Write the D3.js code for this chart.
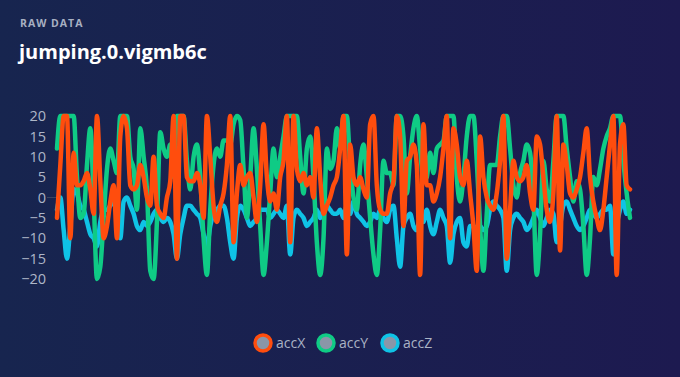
<!DOCTYPE html>
<html>
<head>
<meta charset="utf-8">
<script src="https://cdn.jsdelivr.net/npm/d3@7"></script>
<style>
  html, body { margin: 0; padding: 0; }
  body { width: 680px; height: 377px; overflow: hidden; font-family: "Open Sans", "Noto Sans", sans-serif; }
</style>
</head>
<body>
<div id="chart"></div>
<script>
var width = 680;
var height = 377;

var seriesNames = ["accX", "accY", "accZ"];
var seriesColors = ["#ff4d0d", "#0fcb85", "#0fc3e6"];
var yTicks = [20, 15, 10, 5, 0, -5, -10, -15, -20];

// raw samples
var accX = [
  -5, 8, 20, 20, -10, 11, 3, 3, 4, 6,
  2, -4, 20, 4, -10, -7, -1, 3, -10, 15,
  20, 17, 3, 2, 3, 8, 5, 0, -2, 10,
  -2, -4, -5, 0, 4, 20, -15, 20, 20, 5,
  4, 4, 6, 3, -5, 20, 10, -2, -6, -2,
  1, 8, 20, -11, 1, 8, 3, 5, 6, 0,
  -6, 3, 18, 5, -1, 1, -3, 5, 9, 20,
  -11, 20, 7, 4, 6, 3, 5, 0, 17, 5,
  -4, -2, 0, 3, 5, 12, 20, -14, 13, 5,
  3, 5, 2, 0, 18, 20, 3, -3, -4, -4,
  1, 4, 20, 15, -7, 9, 10, 13, 8, -19,
  18, 3, 3, -1, 1, 5, 12, 20, -10, 17,
  13, 5, 3, 9, 1, -7, -18, 15, 5, 0,
  -2, -3, 1, 9, 20, -15, -3, 9, 5, 4,
  5, 8, 1, -3, 15, 13, 5, -3, -6, 1,
  20, -13, 13, 8, 1, 0, 2, 5, 11, 17,
  5, -1, -5, -8, -3, 5, 13, 20, -19, 13,
  18, 3, 2
];

var accY = [
  12, 20, 20, 20, 20, 20, 5, -5, -4, 8,
  17, 0, -20, -17, -5, 7, 12, 9, 6, 20,
  20, 20, 10, 7, -3, 17, 10, 2, -18, -20,
  -6, 16, 12, 10, 13, 5, 20, 20, 20, 9,
  2, 10, 13, 5, -10, -19, -3, 8, 12, 10,
  14, 14, 13, 18, 20, 19, 7, -5, 5, 17,
  7, -7, -19, -11, 1, 12, 5, 10, 15, 20,
  20, 20, 20, 10, 1, 12, 15, 5, -11, -19,
  -10, 12, 7, 9, 17, 12, 20, 20, 8, 0,
  -3, 8, 13, 5, -5, -14, -19, -8, 9, 6,
  6, 3, 20, 20, 15, 1, 10, 17, 20, 12,
  4, 5, 11, 6, 12, 13, 14, 20, 20, 20,
  5, -1, 5, 15, 20, 20, 9, -7, -18, -4,
  8, 8, 8, 15, 20, 20, 12, 3, 0, 6,
  9, 13, 11, 0, -19, -9, 9, 2, -1, 9,
  20, 20, 20, 12, 5, -1, 4, 2, -7, -19,
  -10, 5, 3, 7, 12, 15, 17, 20, 20, 20,
  9, 1, -5
];

var accZ = [
  -3, 0, -8, -15, -7, 2, 1, -2, -3, -6,
  -9, -10, -12, -6, -3, -3, -2, -1, -4, -10,
  -1, 0, -2, -4, -7, -8, -6, -7, -6, -4,
  -3, -5, -6, -5, -6, -9, -15, -9, -5, -2,
  -2, -3, -4, -5, -9, -12, -7, -4, -3, -2,
  -2, -5, -11, -15, -5, -2, -3, -5, -7, -6,
  -5, -3, -3, -3, -5, -4, -3, -4, -5, -2,
  -14, -5, -3, -4, -5, -7, -6, -5, -3, -5,
  -3, -2, -3, -4, -4, -3, -5, -2, -4, -1,
  -4, -5, -6, -7, -6, -4, -5, -3, -5, -6,
  -3, -2, -10, -17, -7, -5, -4, -7, -8, -5,
  -6, -3, -7, -9, -6, -3, -5, -7, -16, -9,
  -6, -5, -11, -12, -7, -7, -8, -7, -8, -7,
  -3, -1, -2, -3, -5, -18, -8, -5, -4, -5,
  -6, -8, -7, -5, -3, -5, -7, -5, -3, -4,
  -11, -7, -2, -1, -3, -5, -7, -8, -7, -5,
  -3, -4, -5, -4, -3, -3, -2, -14, -7, -3,
  -1, -4, -3
];

var seriesData = [accX, accY, accZ];

var svg = d3.select("#chart")
    .append("svg")
    .attr("width", width)
    .attr("height", height);

var defs = svg.append("defs");
var grad = defs.append("linearGradient")
    .attr("id", "bg")
    .attr("x1", "0%").attr("y1", "0%")
    .attr("x2", "100%").attr("y2", "0%");
grad.append("stop").attr("offset", "0%").attr("stop-color", "#17254f");
grad.append("stop").attr("offset", "100%").attr("stop-color", "#1d1a50");

svg.append("rect")
    .attr("width", width)
    .attr("height", height)
    .attr("fill", "url(#bg)");

// header
svg.append("text")
    .text("RAW DATA")
    .attr("x", 20)
    .attr("y", 27)
    .attr("fill", "#a7b0c2")
    .style("font-size", "10.5px")
    .style("font-weight", "700")
    .style("letter-spacing", "1px");

svg.append("text")
    .text("jumping.0.vigmb6c")
    .attr("x", 19)
    .attr("y", 59)
    .attr("fill", "#ffffff")
    .style("font-size", "20px")
    .style("font-weight", "700");

var x = d3.scaleLinear()
    .domain([0, accX.length - 1])
    .range([57, 630]);

var y = d3.scaleLinear()
    .domain([-20, 20])
    .range([279, 116]);

// y axis labels only
var yAxis = d3.axisLeft(y)
    .tickValues(yTicks)
    .tickSize(0)
    .tickPadding(0);

var gy = svg.append("g")
    .attr("transform", "translate(46,0)")
    .call(yAxis);
gy.select(".domain").remove();
gy.selectAll("text")
    .attr("fill", "#aeb7c8")
    .style("font-size", "14.5px")
    .style("font-family", "'Open Sans', sans-serif");

// short zero line next to the axis
svg.append("line")
    .attr("x1", 47)
    .attr("x2", x(0))
    .attr("y1", y(0))
    .attr("y2", y(0))
    .attr("stroke", "#3a4560")
    .attr("stroke-width", 1);

var line = d3.line()
    .x((d, i) => x(i))
    .y(d => y(d))
    .curve(d3.curveMonotoneX);

// draw accZ first so accX ends on top
[2, 1, 0].forEach(function(k) {
    svg.append("path")
        .datum(seriesData[k])
        .attr("d", line)
        .attr("fill", "none")
        .attr("stroke", seriesColors[k])
        .attr("stroke-width", 4.5)
        .attr("stroke-linejoin", "round")
        .attr("stroke-linecap", "round");
});

// legend
var legendX = [263, 326, 390];
var legend = svg.selectAll(".legend")
    .data(seriesNames)
    .enter()
    .append("g")
    .attr("class", "legend")
    .attr("transform", (d, i) => "translate(" + legendX[i] + ",343)");

legend.append("circle")
    .attr("r", 8)
    .attr("fill", "#8a96a8")
    .attr("stroke", (d, i) => seriesColors[i])
    .attr("stroke-width", 3.5);

legend.append("text")
    .text(d => d)
    .attr("x", 13)
    .attr("y", 5)
    .attr("fill", "#aab3c5")
    .style("font-size", "14px");
</script>
</body>
</html>
